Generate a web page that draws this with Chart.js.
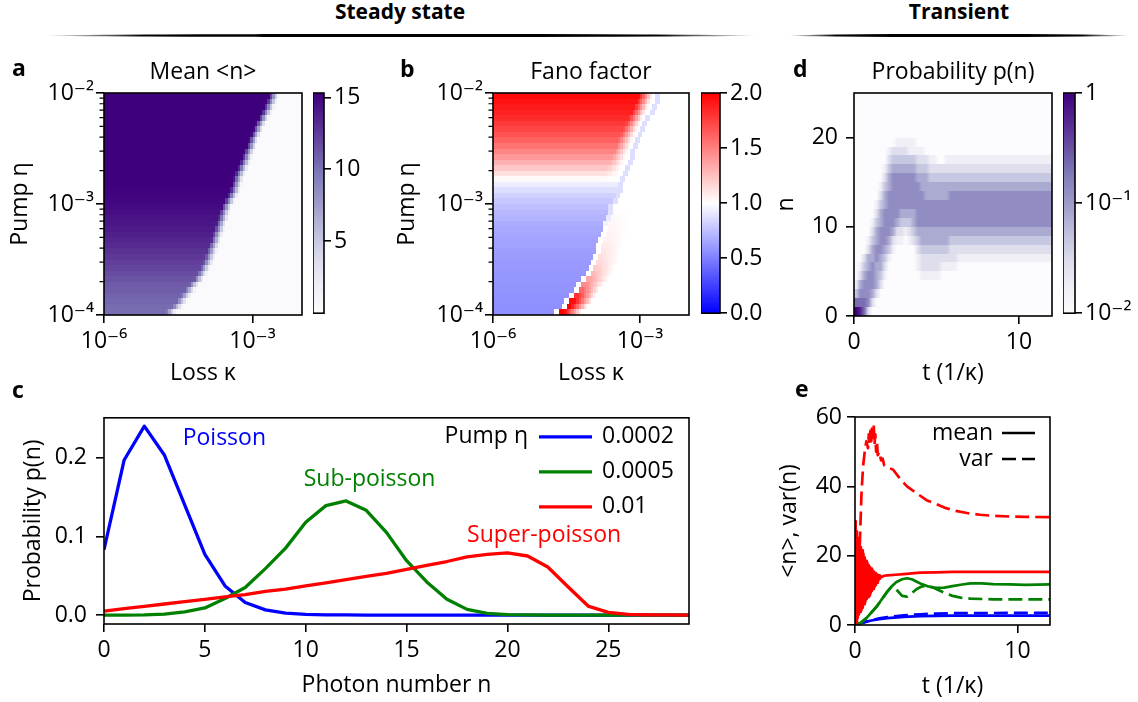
<!DOCTYPE html>
<html>
<head>
<meta charset="utf-8">
<title>Photon statistics</title>
<script src="https://cdn.jsdelivr.net/npm/chart.js@4.4.1/dist/chart.umd.min.js"></script>
<style>
  html, body { margin: 0; padding: 0; background: #fff; }
  #fig { position: relative; width: 1138px; height: 702px; overflow: hidden; background: #fff;
         font-family: 'Open Sans', 'DejaVu Sans', sans-serif; color: #000; }
  #fig canvas { position: absolute; }
  .t { position: absolute; white-space: nowrap; z-index: 2; }
  .rule { position: absolute; height: 3px; top: 34px; border-radius: 50%;
          background: linear-gradient(to right, rgba(0,0,0,0), #000 14%, #000 86%, rgba(0,0,0,0)); }
</style>
</head>
<body>
<div id="fig">
  <div class="rule" style="left:44px; width:714px"></div>
  <div class="rule" style="left:788px; width:342px"></div>
</div>
<script>
// ---------- data ----------
// panels a, b: one entry per pump row, log10(eta), bottom to top
const pumpRows = [-3.975, -3.925, -3.875, -3.825, -3.775, -3.725, -3.675, -3.625, -3.575, -3.525,
                  -3.475, -3.425, -3.375, -3.325, -3.275, -3.225, -3.175, -3.125, -3.075, -3.025,
                  -2.975, -2.925, -2.875, -2.825, -2.775, -2.725, -2.675, -2.625, -2.575, -2.525,
                  -2.475, -2.425, -2.375, -2.325, -2.275, -2.225, -2.175, -2.125, -2.075, -2.025];
// log10(kappa) where the lasing region ends in each row
const edgeKappa = [-4.68, -4.55, -4.46, -4.38, -4.30, -4.22, -4.12, -4.05, -3.99, -3.93,
                   -3.89, -3.85, -3.81, -3.77, -3.74, -3.70, -3.67, -3.63, -3.60, -3.56,
                   -3.50, -3.44, -3.39, -3.36, -3.33, -3.29, -3.24, -3.19, -3.15, -3.11,
                   -3.06, -3.02, -2.97, -2.92, -2.87, -2.81, -2.75, -2.70, -2.65, -2.61];
// mean <n> left of the edge
const meanLeft = [10.2, 10.3, 10.5, 10.7, 10.9, 11.1, 11.4, 11.7, 12.0, 12.3,
                  12.6, 12.9, 13.2, 13.5, 13.8, 14.0, 14.2, 14.4, 14.6, 14.8,
                  15.0, 15.1, 15.2, 15.3, 15.3, 15.3, 15.3, 15.3, 15.3, 15.3,
                  15.3, 15.3, 15.3, 15.3, 15.3, 15.3, 15.3, 15.3, 15.3, 15.3];
// Fano factor left of the edge, on the edge, and just right of it
const fanoLeft = [0.56, 0.56, 0.57, 0.57, 0.58, 0.58, 0.59, 0.59, 0.60, 0.60,
                  0.61, 0.62, 0.63, 0.64, 0.65, 0.66, 0.68, 0.70, 0.72, 0.75,
                  0.78, 0.82, 0.87, 0.93, 1.02, 1.12, 1.22, 1.31, 1.40, 1.48,
                  1.55, 1.62, 1.68, 1.73, 1.78, 1.83, 1.87, 1.90, 1.93, 1.96];
const fanoStrip = [1.0, 1.0, 1.0, 1.0, 1.0, 1.0, 1.0, 1.0, 1.0, 1.0,
                   1.0, 1.0, 1.0, 1.0, 1.0, 1.0, 0.95, 0.92, 0.88, 0.87,
                   0.87, 0.87, 0.87, 0.87, 0.87, 0.87, 0.87, 0.87, 0.87, 0.87,
                   0.87, 0.87, 0.87, 0.87, 0.87, 0.87, 0.87, 0.87, 0.87, 0.87];
const fanoRight = [2.0, 2.0, 1.95, 1.8, 1.6, 1.45, 1.35, 1.27, 1.2, 1.15,
                   1.12, 1.1, 1.08, 1.06, 1.05, 1.04, 1.03, 1.02, 1.01, 1.0,
                   1.0, 1.0, 1.0, 1.0, 1.0, 1.0, 1.0, 1.0, 1.0, 1.0,
                   1.0, 1.0, 1.0, 1.0, 1.0, 1.0, 1.0, 1.0, 1.0, 1.0];

// panel d: p(n, t) as colour levels 0..9 (log scale 1e-2..1), one string per n,
// one digit per time column of 0.25 (1/kappa)
const probRows = [
  '98620000 00000000 00000000 00000000 00000000 00000000',
  '66652000 00000000 00000000 00000000 00000000 00000000',
  '35554200 00000000 00000000 00000000 00000000 00000000',
  '14555420 00000000 00000000 00000000 00000000 00000000',
  '02455431 00000000 11111000 00000000 00000000 00000000',
  '01345442 00000001 22222111 10000000 00000000 00000000',
  '00244543 10000001 22222222 21111111 11111111 11111111',
  '00024554 31000002 33333332 22222222 22222222 22222222',
  '00013455 42110123 44444443 33333333 33333333 33333333',
  '00002455 54221234 44444444 44444444 44444444 44444444',
  '00001345 55433345 55555555 55555555 55555555 55555555',
  '00000245 55544445 55555555 55555555 55555555 55555555',
  '00000134 55555555 55555555 55555555 55555555 55555555',
  '00000024 55555555 54444445 55555555 55555555 55555555',
  '00000013 45555555 44444444 44444444 44444444 44444444',
  '00000002 45555554 44333333 33333333 33333333 33333333',
  '00000001 34444443 33222222 22222222 22222222 22222222',
  '00000000 23333332 22110011 11111111 11111111 11111111',
  '00000000 12222111 10000000 00000000 00000000 00000000',
  '00000000 00111110 00000000 00000000 00000000 00000000',
  '00000000 00000000 00000000 00000000 00000000 00000000',
  '00000000 00000000 00000000 00000000 00000000 00000000',
  '00000000 00000000 00000000 00000000 00000000 00000000',
  '00000000 00000000 00000000 00000000 00000000 00000000',
  '00000000 00000000 00000000 00000000 00000000 00000000'
];

// panel c: steady-state distributions
const photonN = [0, 1, 2, 3, 4, 5, 6, 7, 8, 9, 10, 11, 12, 13, 14, 15, 16, 17, 18, 19,
                 20, 21, 22, 23, 24, 25, 26, 27, 28, 29];
const pLow = [0.083, 0.197, 0.240, 0.203, 0.140, 0.077, 0.037, 0.016, 0.0065, 0.0024,
              0.0008, 0.0003, 0.0001, 0, 0, 0, 0, 0, 0, 0, 0, 0, 0, 0, 0, 0, 0, 0, 0, 0];
const pMid = [0, 0, 0.0003, 0.0012, 0.004, 0.009, 0.021, 0.035, 0.059, 0.085,
              0.118, 0.139, 0.145, 0.133, 0.105, 0.069, 0.042, 0.020, 0.0072, 0.0021,
              0.0006, 0.0002, 0, 0, 0, 0, 0, 0, 0, 0];
const pHigh = [0.005, 0.008, 0.011, 0.014, 0.017, 0.020, 0.023, 0.026, 0.030, 0.033,
               0.037, 0.041, 0.045, 0.049, 0.053, 0.058, 0.063, 0.068, 0.074, 0.077,
               0.079, 0.075, 0.061, 0.036, 0.0114, 0.0034, 0.0008, 0.0002, 0.0001, 0];
const pumpLabels = ['0.0002', '0.0005', '0.01'];

// panel e: transients
const tBlue = [0, 0.5, 1, 1.5, 2, 3, 4, 5, 6, 8, 10, 12];
const blueMean = [0, 0.7, 1.3, 1.7, 2.0, 2.35, 2.55, 2.65, 2.7, 2.7, 2.7, 2.7];
const blueVar = [0, 0.75, 1.4, 1.9, 2.3, 2.8, 3.1, 3.3, 3.4, 3.45, 3.5, 3.5];
const tGreen = [0, 0.3, 0.7, 1.0, 1.35, 1.65, 1.95, 2.25, 2.55, 2.9, 3.2, 3.5, 3.8, 4.1, 4.4,
                4.7, 5.0, 5.5, 6.0, 6.5, 7.1, 7.8, 8.5, 9.5, 10.5, 12];
const greenMean = [0, 0.4, 2.0, 3.6, 5.4, 7.4, 9.4, 11.1, 12.4, 13.2, 13.5, 13.2, 12.5, 11.8, 11.3,
                   10.9, 10.7, 10.8, 11.2, 11.6, 12.0, 12.0, 11.8, 11.7, 11.6, 11.7];
const greenVar = [0, 0.4, 2.0, 3.6, 5.4, 7.4, 9.4, 11.1, 10.2, 8.4, 8.2, 9.2, 10.4, 11.1, 11.3,
                  11.0, 10.4, 9.3, 8.4, 7.9, 7.6, 7.5, 7.4, 7.4, 7.4, 7.4];
const tRedMean = [0, 0.04, 0.08, 0.12, 0.16, 0.2, 0.24, 0.28, 0.32, 0.36, 0.4, 0.44, 0.48, 0.52,
                  0.56, 0.6, 0.64, 0.68, 0.72, 0.76, 0.8, 0.84, 0.88, 0.92, 0.96, 1.0, 1.04, 1.08,
                  1.12, 1.16, 1.2, 1.24, 1.28, 1.32, 1.36, 1.4, 1.44, 1.48, 1.52, 1.56, 1.6,
                  1.8, 2.0, 2.5, 3.0, 3.5, 4.0, 5.0, 6.0, 8.0, 10.0, 12.0];
const redMean = [0, 30, 1, 27, 2, 25, 3, 23.5, 3.8, 22.5, 4.3, 21.5, 5, 20.5,
                 6, 19.5, 6.8, 18.5, 7.5, 18, 8, 17.3, 8.5, 16.8, 9.2, 16.3, 9.8, 15.8,
                 10.4, 15.4, 11, 15, 11.5, 14.7, 12.2, 14.5, 12.8, 14.3, 13.3, 14.2, 13.8,
                 14.2, 14.3, 14.5, 14.7, 14.9, 15.1, 15.2, 15.3, 15.3, 15.3, 15.3];
const tRedVar = [0, 0.1, 0.2, 0.3, 0.4, 0.5, 0.6, 0.7, 0.8, 0.85, 0.9, 0.95, 1.0, 1.05, 1.1,
                 1.15, 1.2, 1.25, 1.3, 1.35, 1.4, 1.5, 1.6, 1.7, 1.8, 2.0, 2.35, 2.8, 3.2, 3.8,
                 4.4, 5.0, 5.6, 6.2, 6.9, 7.7, 8.5, 9.5, 10.5, 12];
const redVar = [0, 1, 8, 24, 38, 46, 50, 53, 51, 55, 52, 56, 53, 57, 54,
                58, 52, 55, 50, 53, 49, 50, 47.5, 48, 46, 45.5, 44.8, 42, 40, 38,
                36, 34.9, 33.7, 32.9, 32.3, 31.8, 31.5, 31.3, 31.2, 31.1];

// tick values
const lossTicks = [1e-6, 1e-3];
const pumpTicks = [1e-4, 1e-3, 1e-2];
const meanBarTicks = [5, 10, 15];
const fanoBarTicks = [0, 0.5, 1, 1.5, 2];
const probBarTicks = [0.01, 0.1, 1];
const timeTicks = [0, 10];
const nTicks = [0, 10, 20];
const photonTicks = [0, 5, 10, 15, 20, 25];
const probTicks = [0, 0.1, 0.2];
const momentTicks = [0, 20, 40, 60];

// ---------- look ----------
const FONT = "'Open Sans', 'DejaVu Sans', sans-serif";
const FS = 23;
const BLUE = '#0000ff', GREEN = '#008000', RED = '#ff0000';
const ROW_STEP = 0.05, LOSS_MIN = -6, LOSS_MAX = -2, LOSS_STEP = 0.05;
const T_STEP = 0.25;
const MEAN_FLOOR = 0.3;

Chart.defaults.font.family = FONT;
Chart.defaults.font.size = FS;
Chart.defaults.color = '#000';

const fig = document.getElementById('fig');

function addText(str, x, baseline, size, weight, align) {
  const d = document.createElement('div');
  d.className = 't';
  d.textContent = str;
  d.style.fontSize = size + 'px';
  d.style.lineHeight = size + 'px';
  d.style.fontWeight = weight;
  d.style.top = (baseline - 0.888 * size) + 'px';
  d.style.left = x + 'px';
  if (align === 'center') d.style.transform = 'translateX(-50%)';
  fig.appendChild(d);
}

function makeCanvas(box) {
  const c = document.createElement('canvas');
  c.width = box.width; c.height = box.height;
  c.style.left = box.left + 'px'; c.style.top = box.top + 'px';
  c.style.width = box.width + 'px'; c.style.height = box.height + 'px';
  fig.appendChild(c);
  return c;
}

const clamp = (v, a, b) => Math.min(b, Math.max(a, v));
const rgb = c => `rgb(${c[0]},${c[1]},${c[2]})`;

const PURPLES = [[252, 251, 253], [239, 237, 245], [218, 218, 235], [188, 189, 220], [158, 154, 200],
                 [128, 125, 186], [106, 81, 163], [84, 39, 143], [63, 0, 125]];
function purples(f) {
  const s = clamp(f, 0, 1) * 8;
  const i = Math.min(7, Math.floor(s)), t = s - i;
  const a = PURPLES[i], b = PURPLES[i + 1];
  return [0, 1, 2].map(k => Math.round(a[k] + (b[k] - a[k]) * t));
}
function bwr(v) {
  const t = clamp(v / 2, 0, 1);
  if (t < 0.5) { const c = Math.round(510 * t); return [c, c, 255]; }
  const c = Math.round(510 * (1 - t)); return [255, c, c];
}
const meanColor = v => purples(v / 15.3);
const probColor = v => purples((Math.log10(v) + 2) / 2);
const levelColor = L => purples(L / 9);

const SUP = { '-': '\u207B', '0': '\u2070', '1': '\u00B9', '2': '\u00B2', '3': '\u00B3', '4': '\u2074',
              '5': '\u2075', '6': '\u2076', '7': '\u2077', '8': '\u2078', '9': '\u2079' };
function pow10(v) {
  const e = Math.round(Math.log10(v));
  if (e === 0) return '1';
  return '10' + String(e).split('').map(c => SUP[c]).join('');
}

function axis(o) {
  return {
    type: o.type || 'linear',
    position: o.position,
    min: o.min,
    max: o.max,
    afterFit: s => { if (s.isHorizontal()) s.height = o.size; else s.width = o.size; },
    afterBuildTicks: s => { s.ticks = o.ticks.map(v => ({ value: v })); },
    grid: { display: true, drawOnChartArea: false, drawTicks: true, tickLength: o.tl || 8,
            lineWidth: 1.6, color: '#000', tickColor: '#000' },
    border: { display: false },
    ticks: { color: '#000', padding: o.pad, maxRotation: 0, minRotation: 0, autoSkip: false,
             font: { size: FS, family: FONT }, callback: v => (o.fmt ? o.fmt(v) : String(v)) },
    title: o.title ? { display: true, text: o.title, color: '#000', font: { size: FS, family: FONT },
                       padding: { top: o.titlePad, bottom: o.titlePad } } : { display: false }
  };
}

const frame = {
  id: 'frame',
  afterDraw(chart) {
    const { ctx, chartArea: a } = chart;
    ctx.save();
    ctx.strokeStyle = '#000'; ctx.lineWidth = 1.6;
    ctx.strokeRect(a.left, a.top, a.width, a.height);
    ctx.restore();
  }
};

const minorTicks = {
  id: 'minorTicks',
  afterDraw(chart) {
    const { ctx, chartArea: a, scales: { y } } = chart;
    ctx.save();
    ctx.strokeStyle = '#000'; ctx.lineWidth = 1.2;
    ctx.beginPath();
    for (let e = Math.round(Math.log10(y.min)); e < Math.round(Math.log10(y.max)); e++) {
      for (let m = 2; m <= 9; m++) {
        const py = y.getPixelForValue(m * 10 ** e);
        ctx.moveTo(a.left - 4.5, py); ctx.lineTo(a.left, py);
      }
    }
    ctx.stroke();
    ctx.restore();
  }
};

// cells of panels a and b, placed through the log scales
function gridPlugin(id, valueAt, colorOf) {
  return {
    id,
    beforeDatasetsDraw(chart) {
      const { ctx, chartArea: ca, scales: { x, y } } = chart;
      const nCols = Math.round((LOSS_MAX - LOSS_MIN) / LOSS_STEP);
      ctx.save();
      ctx.beginPath(); ctx.rect(ca.left, ca.top, ca.width, ca.height); ctx.clip();
      pumpRows.forEach((p, i) => {
        const yt = Math.round(y.getPixelForValue(10 ** (p + ROW_STEP / 2)));
        const yb = Math.round(y.getPixelForValue(10 ** (p - ROW_STEP / 2)));
        for (let j = 0; j < nCols; j++) {
          const k0 = LOSS_MIN + j * LOSS_STEP, k1 = k0 + LOSS_STEP;
          const xl = Math.round(x.getPixelForValue(10 ** k0));
          const xr = Math.round(x.getPixelForValue(10 ** k1));
          ctx.fillStyle = rgb(colorOf(valueAt(i, (k0 + k1) / 2)));
          ctx.fillRect(xl, yt, xr - xl, yb - yt);
        }
      });
      ctx.restore();
    }
  };
}

function meanValue(i, lk) {
  const d = lk - edgeKappa[i];
  const f = clamp((0.14 - d) / 0.2, 0, 1);
  return MEAN_FLOOR + (meanLeft[i] - MEAN_FLOOR) * f;
}
function fanoValue(i, lk) {
  const d = lk - edgeKappa[i] + 0.02;
  const left = fanoLeft[i];
  if (d < -0.05) {
    if (left <= 1) return left;
    return 1 + (left - 1) * clamp((-d - 0.12) / 0.28, 0, 1);
  }
  if (d < 0.05) return fanoStrip[i];
  return 1 + (fanoRight[i] - 1) * clamp(1 - (d - 0.15) / 0.35, 0, 1);
}

// panel d rows, smoothed along time
const probPlugin = {
  id: 'probMap',
  beforeDatasetsDraw(chart) {
    const { ctx, chartArea: ca, scales: { x, y } } = chart;
    ctx.save();
    ctx.beginPath(); ctx.rect(ca.left, ca.top, ca.width, ca.height); ctx.clip();
    probRows.forEach((row, n) => {
      const lv = row.replace(/ /g, '').split('').map(Number);
      const yt = Math.round(y.getPixelForValue(n + 1));
      const yb = Math.round(y.getPixelForValue(n));
      const x0 = x.getPixelForValue(x.min), x1 = x.getPixelForValue(x.max);
      const g = ctx.createLinearGradient(x0, 0, x1, 0);
      lv.forEach((L, j) => {
        const px = x.getPixelForValue((j + 0.5) * T_STEP);
        g.addColorStop(clamp((px - x0) / (x1 - x0), 0, 1), rgb(levelColor(L)));
      });
      ctx.fillStyle = g;
      ctx.fillRect(ca.left, yt, ca.width, yb - yt);
    });
    ctx.restore();
  }
};

function barPlugin(colorOf) {
  return {
    id: 'cbar',
    beforeDatasetsDraw(chart) {
      const { ctx, chartArea: ca, scales: { y } } = chart;
      ctx.save();
      for (let py = Math.floor(ca.top); py < ca.bottom; py++) {
        ctx.fillStyle = rgb(colorOf(y.getValueForPixel(py + 0.5)));
        ctx.fillRect(ca.left, py, ca.width, 1);
      }
      ctx.restore();
    }
  };
}

function panel(box, area, type, datasets, xo, yo, plugins) {
  xo.size = box.top + box.height - area.bottom;
  yo.size = area.left - box.left;
  return new Chart(makeCanvas(box), {
    type,
    data: { datasets },
    options: {
      devicePixelRatio: 1, responsive: false, animation: false,
      layout: { padding: { top: area.top - box.top, right: box.left + box.width - area.right, left: 0, bottom: 0 } },
      plugins: { legend: { display: false }, tooltip: { enabled: false } },
      elements: { point: { radius: 0 }, line: { tension: 0, borderJoinStyle: 'round' } },
      scales: { x: axis({ ...xo, position: 'bottom' }), y: axis({ ...yo, position: 'left' }) }
    },
    plugins
  });
}

function colorbar(box, area, yo, colorOf) {
  yo.size = box.left + box.width - area.right;
  return new Chart(makeCanvas(box), {
    type: 'scatter',
    data: { datasets: [] },
    options: {
      devicePixelRatio: 1, responsive: false, animation: false,
      layout: { padding: { top: area.top - box.top, bottom: box.top + box.height - area.bottom, left: 0, right: 0 } },
      plugins: { legend: { display: false }, tooltip: { enabled: false } },
      scales: { x: { display: false }, y: axis({ ...yo, position: 'right' }) }
    },
    plugins: [barPlugin(colorOf), frame]
  });
}

// ---------- texts ----------
addText('Steady state', 400, 20, 21, 700, 'center');
addText('Transient', 959, 20, 21, 700, 'center');
addText('a', 12, 76, 23, 700);
addText('b', 400, 77, 23, 700);
addText('d', 793, 77, 23, 700);
addText('c', 12, 398, 23, 700);
addText('e', 795, 397, 23, 700);
addText('Mean <n>', 203, 79, 23, 400, 'center');
addText('Fano factor', 591, 79, 23, 400, 'center');
addText('Probability p(n)', 953, 79, 23, 400, 'center');

// ---------- a: mean ----------
panel({ left: 0, top: 60, width: 306, height: 335 }, { left: 104, top: 93, right: 302, bottom: 315 },
  'scatter', [],
  { type: 'logarithmic', min: 1e-6, max: 1e-2, ticks: lossTicks, fmt: pow10, pad: 5, title: 'Loss \u03BA', titlePad: 8 },
  { type: 'logarithmic', min: 1e-4, max: 1e-2, ticks: pumpTicks, fmt: pow10, pad: 2, title: 'Pump \u03B7', titlePad: 7 },
  [gridPlugin('meanMap', meanValue, meanColor), minorTicks, frame]);
colorbar({ left: 313, top: 60, width: 67, height: 270 }, { right: 324, top: 93, bottom: 315 },
  { min: 0, max: 15.3, ticks: meanBarTicks, tl: 7, pad: 3 }, meanColor);

// ---------- b: Fano ----------
panel({ left: 380, top: 60, width: 313, height: 335 }, { left: 493, top: 93, right: 689, bottom: 315 },
  'scatter', [],
  { type: 'logarithmic', min: 1e-6, max: 1e-2, ticks: lossTicks, fmt: pow10, pad: 5, title: 'Loss \u03BA', titlePad: 8 },
  { type: 'logarithmic', min: 1e-4, max: 1e-2, ticks: pumpTicks, fmt: pow10, pad: 2, title: 'Pump \u03B7', titlePad: 13.5 },
  [gridPlugin('fanoMap', fanoValue, bwr), minorTicks, frame]);
colorbar({ left: 701, top: 60, width: 74, height: 270 }, { right: 720, top: 93, bottom: 315 },
  { min: 0, max: 2, ticks: fanoBarTicks, fmt: v => v.toFixed(1), tl: 7, pad: 3 }, bwr);

// ---------- d: p(n, t) ----------
panel({ left: 760, top: 60, width: 296, height: 335 }, { left: 854, top: 93, right: 1052, bottom: 316 },
  'scatter', [],
  { min: 0, max: 12, ticks: timeTicks, pad: 5, title: 't (1/\u03BA)', titlePad: 8 },
  { min: 0, max: 25, ticks: nTicks, pad: 8, title: 'n', titlePad: 13 },
  [probPlugin, frame]);
colorbar({ left: 1063, top: 60, width: 75, height: 270 }, { right: 1075, top: 93, bottom: 316 },
  { type: 'logarithmic', min: 0.01, max: 1, ticks: probBarTicks, fmt: pow10, tl: 7, pad: 3 }, probColor);

// ---------- c: distributions ----------
const cNotes = [
  { text: 'Poisson', x: 3.9, y: 0.224, color: BLUE },
  { text: 'Sub-poisson', x: 9.9, y: 0.172, color: GREEN },
  { text: 'Super-poisson', x: 18.0, y: 0.101, color: RED }
];
const legendC = {
  id: 'legendC',
  afterDatasetsDraw(chart) {
    const { ctx, chartArea: ca, scales: { x, y } } = chart;
    ctx.save();
    ctx.font = `${FS}px ${FONT}`;
    ctx.textBaseline = 'middle';
    cNotes.forEach(n => {
      ctx.fillStyle = n.color; ctx.textAlign = 'left';
      ctx.fillText(n.text, x.getPixelForValue(n.x), y.getPixelForValue(n.y));
    });
    ctx.fillStyle = '#000';
    ctx.textAlign = 'right';
    ctx.fillText('Pump \u03B7', ca.right - 161, ca.top + 19);
    [0, 1, 2].forEach(i => {
      const ds = chart.data.datasets[i];
      const yy = ca.top + 19 + i * 35;
      ctx.strokeStyle = ds.borderColor; ctx.lineWidth = ds.borderWidth;
      ctx.beginPath(); ctx.moveTo(ca.right - 150, yy); ctx.lineTo(ca.right - 97, yy); ctx.stroke();
      ctx.fillStyle = '#000'; ctx.textAlign = 'left';
      ctx.fillText(ds.label, ca.right - 87, yy);
    });
    ctx.restore();
  }
};
const series = (xs, ys) => xs.map((v, i) => ({ x: v, y: ys[i] }));
panel({ left: 0, top: 395, width: 693, height: 307 }, { left: 104, top: 417, right: 689, bottom: 624 },
  'line',
  [
    { label: pumpLabels[0], data: series(photonN, pLow), borderColor: BLUE, borderWidth: 3.3, order: 3, clip: 0 },
    { label: pumpLabels[1], data: series(photonN, pMid), borderColor: GREEN, borderWidth: 3.3, order: 2, clip: 0 },
    { label: pumpLabels[2], data: series(photonN, pHigh), borderColor: RED, borderWidth: 3.3, order: 1, clip: 0 }
  ],
  { min: 0, max: 29, ticks: photonTicks, pad: 5, title: 'Photon number n', titlePad: 3 },
  { min: -0.0114, max: 0.2506, ticks: probTicks, fmt: v => v.toFixed(1), pad: 9, title: 'Probability p(n)', titlePad: 20 },
  [legendC, frame]);

// ---------- e: transients ----------
const DASH = [14, 6];
const legendE = {
  id: 'legendE',
  afterDatasetsDraw(chart) {
    const { ctx, chartArea: ca } = chart;
    ctx.save();
    ctx.font = `${FS}px ${FONT}`;
    ctx.textBaseline = 'middle';
    ctx.textAlign = 'right';
    ctx.fillStyle = '#000'; ctx.strokeStyle = '#000'; ctx.lineWidth = 2.7;
    [['mean', []], ['var', DASH]].forEach(([name, dash], i) => {
      const yy = ca.top + 16 + i * 26;
      ctx.fillText(name, ca.right - 57, yy);
      ctx.setLineDash(dash);
      ctx.beginPath(); ctx.moveTo(ca.right - 48, yy); ctx.lineTo(ca.right - 15, yy); ctx.stroke();
    });
    ctx.restore();
  }
};
panel({ left: 760, top: 395, width: 294, height: 307 }, { left: 855, top: 417, right: 1050, bottom: 625 },
  'line',
  [
    { data: series(tBlue, blueMean), borderColor: BLUE, borderWidth: 2.7, order: 6, clip: 0 },
    { data: series(tBlue, blueVar), borderColor: BLUE, borderWidth: 2.7, borderDash: DASH, order: 5, clip: 0 },
    { data: series(tGreen, greenMean), borderColor: GREEN, borderWidth: 2.7, order: 4, clip: 0 },
    { data: series(tGreen, greenVar), borderColor: GREEN, borderWidth: 2.7, borderDash: DASH, order: 3, clip: 0 },
    { data: series(tRedMean, redMean), borderColor: RED, borderWidth: 2.7, order: 2, clip: 0 },
    { data: series(tRedVar, redVar), borderColor: RED, borderWidth: 2.7, borderDash: DASH, order: 1, clip: 0 }
  ],
  { min: 0, max: 12, ticks: timeTicks, pad: 5, title: 't (1/\u03BA)', titlePad: 2 },
  { min: 0, max: 60, ticks: momentTicks, pad: 5, title: '<n>, var(n)', titlePad: 16 },
  [legendE, frame]);
</script>
</body>
</html>
